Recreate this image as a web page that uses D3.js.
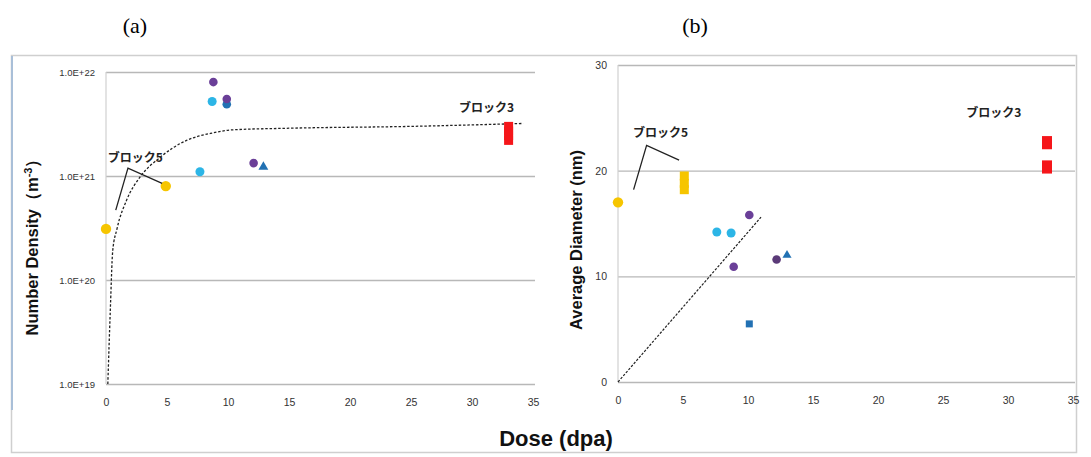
<!DOCTYPE html>
<html><head><meta charset="utf-8">
<script src="https://cdn.jsdelivr.net/npm/d3@7"></script>
<style>
html,body{margin:0;padding:0;background:#fff;}
svg{display:block;}
text{font-family:"Liberation Sans",Arial,sans-serif;}
</style></head>
<body>
<svg id="chart" width="1091" height="457"></svg>
<script>
// ---------------- DATA ----------------
const doseTicks = [0, 5, 10, 15, 20, 25, 30, 35];
const densityTicks = [1e19, 1e20, 1e21, 1e22];
const densityTickLabels = ["1.0E+19", "1.0E+20", "1.0E+21", "1.0E+22"];
const diameterTicks = [0, 10, 20, 30];
const diameterTickLabels = ["0", "10", "20", "30"];

// Panel (a): number density (m^-3) vs dose (dpa)
const densityYellow = [[0, 3.1e20], [4.9, 8.0e20]];
const densityCyan = [[7.7, 1.1e21], [8.7, 5.2e21]];
const densityPurple = [[8.8, 8.0e21], [9.9, 5.5e21], [12.1, 1.33e21]];
const densityBlueCircle = [[9.9, 4.9e21]];
const densityBlueTriangle = [[12.9, 1.22e21]];
const densityRed = [[33.0, 2.2e21], [33.0, 2.45e21], [33.0, 2.7e21], [33.0, 3.0e21]];
const densityTrend = [[0.15, 1e19], [0.35, 5e19], [0.55, 1.9e20], [0.9, 3.1e20], [1.7, 5.9e20],
  [2.8, 9.8e20], [4.4, 1.5e21], [6.6, 2.2e21], [8.8, 2.6e21], [10.4, 2.78e21],
  [15, 2.88e21], [25, 3.0e21], [34.2, 3.2e21]];

// Panel (b): average diameter (nm) vs dose (dpa)
const diameterYellowCircle = [[0, 17.0]];
const diameterYellowSquare = [[5.1, 18.2], [5.1, 18.8], [5.1, 19.5]];
const diameterCyan = [[7.6, 14.2], [8.7, 14.1]];
const diameterPurple = [[10.1, 15.8], [8.9, 10.9]];
const diameterDarkPurple = [[12.2, 11.6]];
const diameterBlueTriangle = [[13.0, 12.0]];
const diameterBlueSquare = [[10.1, 5.5]];
const diameterRed = [[33.0, 20.2], [33.0, 20.5], [33.0, 22.5], [33.0, 22.8]];
const diameterTrend = [[0, 0], [11, 15.6]];

// Annotations (data coordinates)
const calloutA = [[0.8, 4.7e20], [1.8, 1.19e21], [4.6, 8.5e20]];
const calloutB = [[1.2, 18.2], [2.2, 22.4], [4.7, 21.0]];
const labelsA = [{t: "ブロック5", x: 0.15, y: 1.36e21, a: "start"}, {t: "ブロック3", x: 31.2, y: 4.1e21, a: "middle"}];
const labelsB = [{t: "ブロック5", x: 1.15, y: 23.2, a: "start"}, {t: "ブロック3", x: 28.9, y: 25.1, a: "middle"}];

// ---------------- DRAW ----------------
const svg = d3.select("#chart");
const C = {yellow: "#f6c500", cyan: "#2cb5e6", purple: "#6a3f98", dpurple: "#5b3a78", blue: "#2271b3", red: "#f5161a"};

// frame
svg.append("rect").attr("x", 11.5).attr("y", 55.5).attr("width", 1065).attr("height", 397)
  .attr("fill", "none").attr("stroke", "#cfcfcf").attr("stroke-width", 1.5);
svg.append("line").attr("x1", 12).attr("x2", 12).attr("y1", 56).attr("y2", 410)
  .attr("stroke", "#a9bfd8").attr("stroke-width", 2);

// panel titles
svg.append("text").attr("x", 135).attr("y", 33).attr("text-anchor", "middle")
  .style("font-family", "'Liberation Serif','Times New Roman',serif").style("font-size", "22px").text("(a)");
svg.append("text").attr("x", 695).attr("y", 33).attr("text-anchor", "middle")
  .style("font-family", "'Liberation Serif','Times New Roman',serif").style("font-size", "22px").text("(b)");

function panel(opts) {
  const g = svg.append("g");
  const x = d3.scaleLinear().domain([0, 35]).range(opts.xr);
  const y = opts.y;
  // gridlines
  g.append("g").attr("transform", `translate(${opts.xr[0]},0)`)
    .call(d3.axisLeft(y).tickValues(opts.yTicks).tickSize(-(opts.gridEnd - opts.xr[0])).tickFormat((d, i) => opts.yLabels[i]))
    .call(s => s.select(".domain").remove())
    .call(s => s.selectAll(".tick line").attr("stroke", "#b8b8b8").attr("stroke-width", 1.3))
    .call(s => s.selectAll(".tick text").attr("x", -11).attr("fill", "#333").style("font-size", opts.yFont).style("font-family", "'Liberation Sans',Arial,sans-serif"));
  // vertical axis line
  g.append("line").attr("x1", opts.xr[0]).attr("x2", opts.xr[0]).attr("y1", y.range()[1]).attr("y2", y.range()[0])
    .attr("stroke", "#d0d0d0").attr("stroke-width", 1.2);
  // x axis
  g.append("g").attr("transform", `translate(0,${y.range()[0] + 12})`)
    .call(d3.axisBottom(x).tickValues(doseTicks).tickSize(0).tickFormat(d3.format("d")))
    .call(s => s.select(".domain").remove())
    .call(s => s.selectAll(".tick text").attr("fill", "#333").style("font-size", "10.5px").style("font-family", "'Liberation Sans',Arial,sans-serif"));
  return {g, x, y};
}

// ---- Panel (a)
const yA = d3.scaleLog().domain([1e19, 1e22]).range([384, 72]);
const A = panel({xr: [106, 533], y: yA, yTicks: densityTicks, yLabels: densityTickLabels, gridEnd: 535, yFont: "9.5px"});

A.g.append("path").datum(densityTrend)
  .attr("d", d3.line().x(d => A.x(d[0])).y(d => A.y(d[1])).curve(d3.curveMonotoneX))
  .attr("fill", "none").attr("stroke", "#222").attr("stroke-width", 1.3).attr("stroke-dasharray", "2.5,1.8");

function circles(P, data, color, r) {
  P.g.selectAll(null).data(data).join("circle")
    .attr("cx", d => P.x(d[0])).attr("cy", d => P.y(d[1])).attr("r", r).attr("fill", color);
}
function squares(P, data, color, s) {
  P.g.selectAll(null).data(data).join("rect")
    .attr("x", d => P.x(d[0]) - s / 2).attr("y", d => P.y(d[1]) - s / 2)
    .attr("width", s).attr("height", s).attr("fill", color);
}
function triangles(P, data, color, s) {
  P.g.selectAll(null).data(data).join("path")
    .attr("transform", d => `translate(${P.x(d[0])},${P.y(d[1])})`)
    .attr("d", d3.symbol(d3.symbolTriangle, s)()).attr("fill", color);
}

circles(A, densityYellow, C.yellow, 5.2);
circles(A, densityCyan, C.cyan, 4.5);
circles(A, densityBlueCircle, C.blue, 4.3);
circles(A, densityPurple, C.purple, 4.3);
triangles(A, densityBlueTriangle, C.blue, 42);
squares(A, densityRed, C.red, 9);

A.g.append("path").datum(calloutA)
  .attr("d", d3.line().x(d => A.x(d[0])).y(d => A.y(d[1])))
  .attr("fill", "none").attr("stroke", "#222").attr("stroke-width", 1.3);
A.g.selectAll(null).data(labelsA).join("text")
  .attr("x", d => A.x(d.x)).attr("y", d => A.y(d.y)).attr("text-anchor", d => d.a)
  .style("font-family", "'Noto Sans CJK JP',sans-serif").style("font-weight", "bold").style("font-size", "12px")
  .attr("fill", "#222").text(d => d.t);

// y title (a)
const tA = svg.append("text").attr("transform", "translate(38,243) rotate(-90)").attr("text-anchor", "middle")
  .style("font-weight", "bold").style("font-size", "16.5px").attr("fill", "#111");
tA.append("tspan").text("Number Density（m");
tA.append("tspan").attr("dy", -6).style("font-size", "11px").text("-3");
tA.append("tspan").attr("dy", 6).text("）");

// ---- Panel (b)
const yB = d3.scaleLinear().domain([0, 30]).range([382, 65]);
const B = panel({xr: [618, 1073], y: yB, yTicks: diameterTicks, yLabels: diameterTickLabels, gridEnd: 1075, yFont: "10.5px"});

B.g.append("path").datum(diameterTrend)
  .attr("d", d3.line().x(d => B.x(d[0])).y(d => B.y(d[1])))
  .attr("fill", "none").attr("stroke", "#222").attr("stroke-width", 1.2).attr("stroke-dasharray", "2.5,1.5");

circles(B, diameterYellowCircle, C.yellow, 5.2);
squares(B, diameterYellowSquare, C.yellow, 9);
circles(B, diameterCyan, C.cyan, 4.5);
circles(B, diameterPurple, C.purple, 4.3);
circles(B, diameterDarkPurple, C.dpurple, 4.3);
triangles(B, diameterBlueTriangle, C.blue, 36);
squares(B, diameterBlueSquare, C.blue, 7);
squares(B, diameterRed, C.red, 10);

B.g.append("path").datum(calloutB)
  .attr("d", d3.line().x(d => B.x(d[0])).y(d => B.y(d[1])))
  .attr("fill", "none").attr("stroke", "#222").attr("stroke-width", 1.3);
B.g.selectAll(null).data(labelsB).join("text")
  .attr("x", d => B.x(d.x)).attr("y", d => B.y(d.y)).attr("text-anchor", d => d.a)
  .style("font-family", "'Noto Sans CJK JP',sans-serif").style("font-weight", "bold").style("font-size", "12px")
  .attr("fill", "#222").text(d => d.t);

svg.append("text").attr("transform", "translate(582,240) rotate(-90)").attr("text-anchor", "middle")
  .style("font-weight", "bold").style("font-size", "16.5px").attr("fill", "#111").text("Average Diameter (nm)");

// shared x title
svg.append("text").attr("x", 556).attr("y", 446).attr("text-anchor", "middle")
  .style("font-weight", "bold").style("font-size", "22px").attr("fill", "#111").text("Dose (dpa)");
</script>
</body></html>
